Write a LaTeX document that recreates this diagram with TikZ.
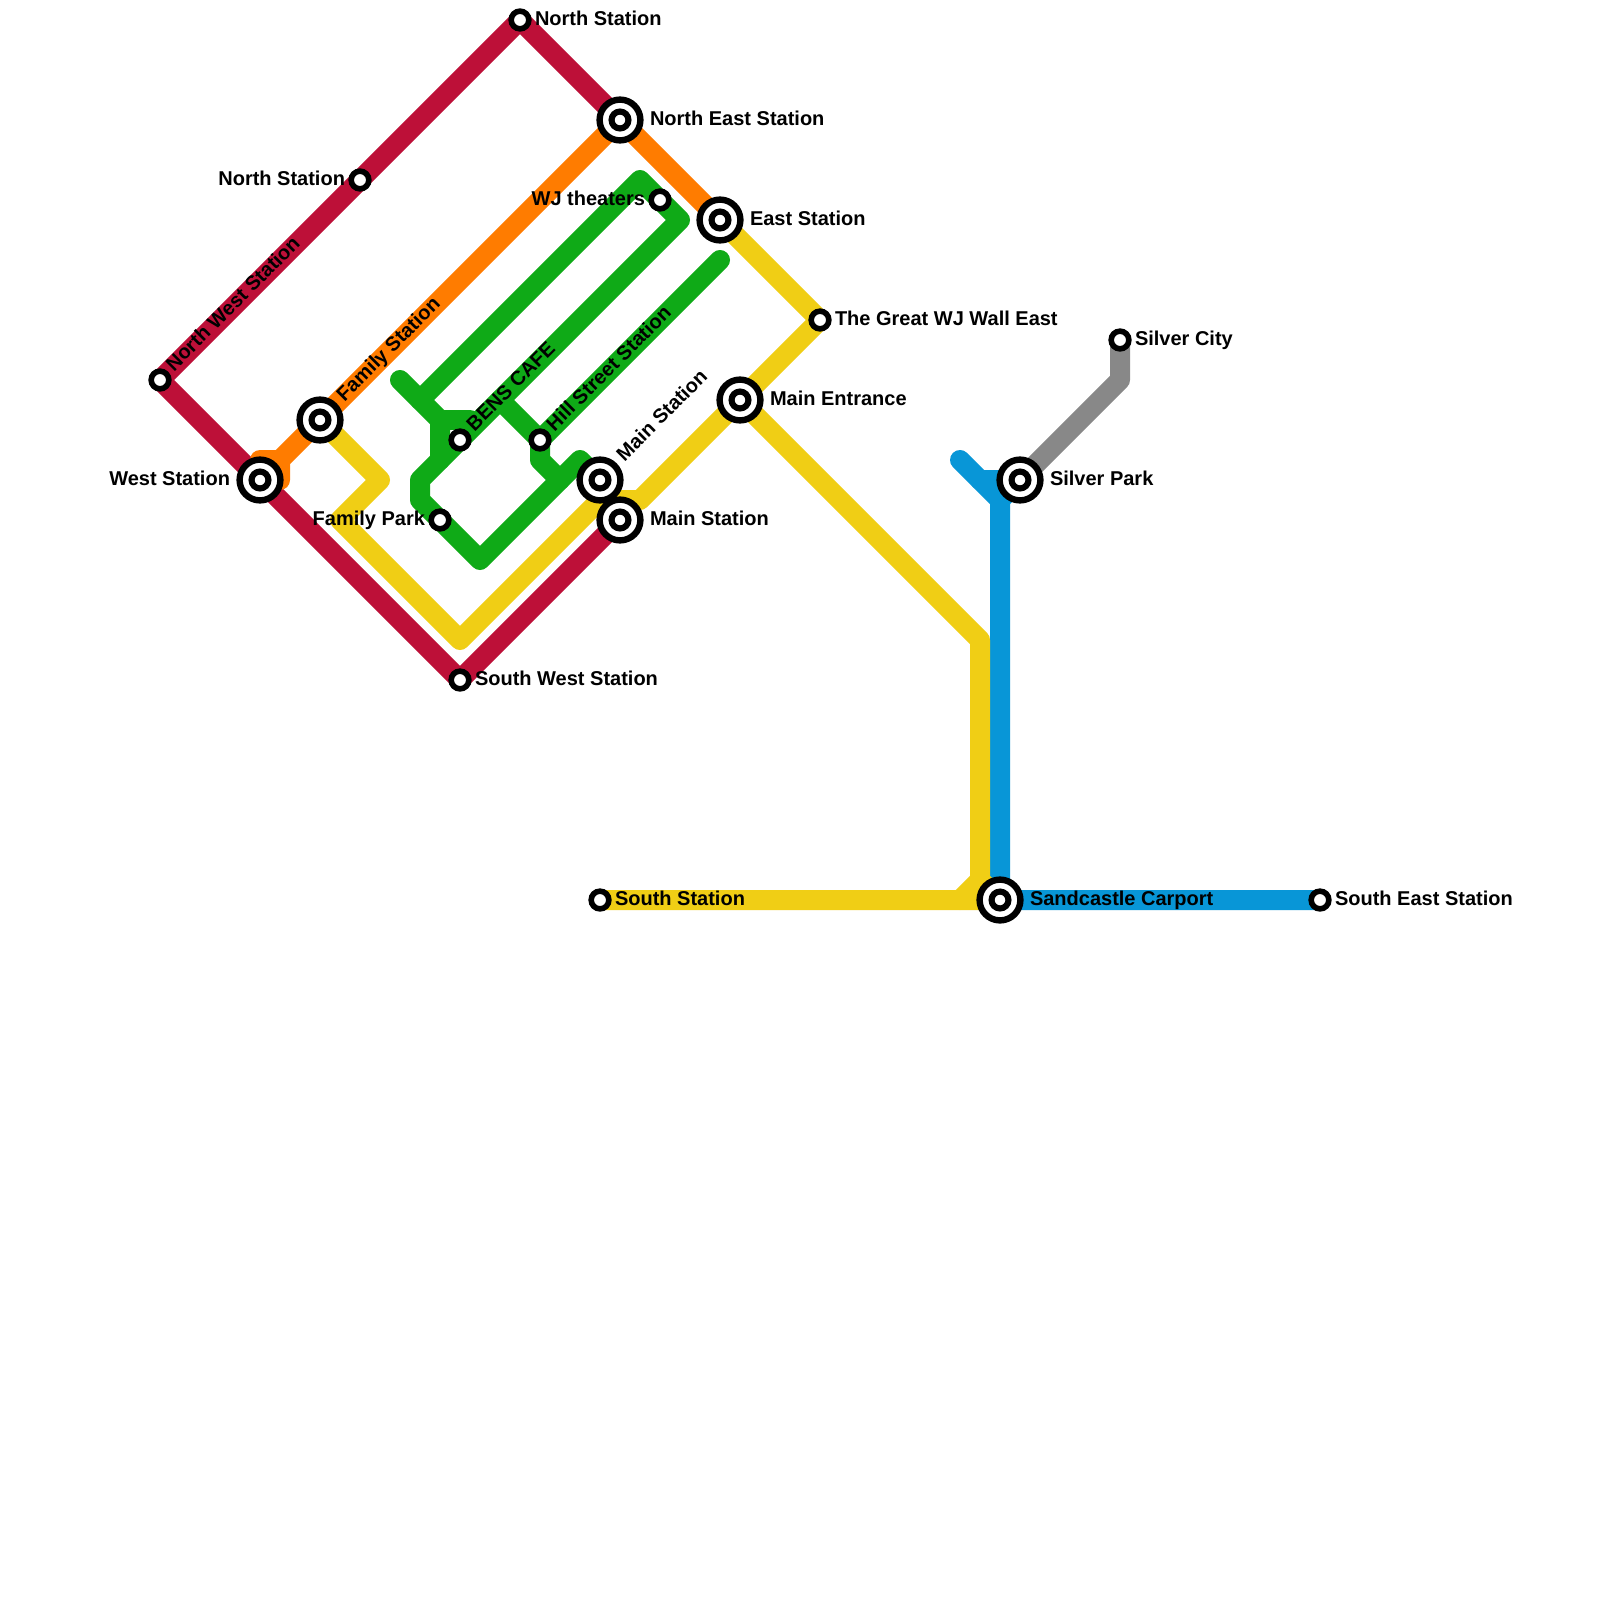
\documentclass[tikz,border=0pt]{standalone}
\usepackage{fontspec}
\setmainfont{Liberation Sans}
\definecolor{crimson}{HTML}{BD1038}
\definecolor{lineorange}{HTML}{FF7C00}
\definecolor{lineyellow}{HTML}{F0CE15}
\definecolor{linegreen}{HTML}{0FAA17}
\definecolor{lineblue}{HTML}{0896D7}
\definecolor{linegray}{HTML}{888888}
\tikzset{
  route/.style={line width=10pt,line cap=round,line join=round},
  small/.style={circle,draw=black,fill=white,line width=2.8pt,minimum size=8.85pt,inner sep=0pt,outer sep=0pt},
  big/.style={circle,draw=black,fill=white,line width=3.2pt,minimum size=20.4pt,inner sep=0pt,outer sep=0pt},
  core/.style={circle,draw=black,fill=white,line width=3.05pt,minimum size=8.45pt,inner sep=0pt,outer sep=0pt},
  lbl/.style={font=\bfseries\fontsize{10pt}{11pt}\selectfont,inner sep=0pt,outer sep=0pt,text=black},
  lr/.style={lbl,anchor=base west},
  ll/.style={lbl,anchor=base east},
  ld/.style={lbl,anchor=base west,rotate=45},
}
\begin{document}
\begin{tikzpicture}[x=0.5pt,y=-0.5pt]
\useasboundingbox (0,0) rectangle (1600,1600);
\fill[white] (0,0) rectangle (1600,1600);
% stations
\coordinate (N) at (520,20);
\coordinate (NW) at (160,380);
\coordinate (NL) at (360,180);
\coordinate (W) at (260,480);
\coordinate (SW) at (460,680);
\coordinate (ML) at (620,520);
\coordinate (MU) at (600,480);
\coordinate (NE) at (620,120);
\coordinate (E) at (720,220);
\coordinate (GW) at (820,320);
\coordinate (ME) at (740,400);
\coordinate (F) at (320,420);
\coordinate (WJ) at (660,200);
\coordinate (BC) at (460,440);
\coordinate (HS) at (540,440);
\coordinate (FP) at (440,520);
\coordinate (SP) at (1020,480);
\coordinate (SC) at (1120,340);
\coordinate (SD) at (1000,900);
\coordinate (SE) at (1320,900);
\coordinate (SS) at (600,900);
% corners
\coordinate (o1) at (280,460);\coordinate (o2) at (280,480);\coordinate (o3) at (260,460);
\coordinate (y1) at (380,480);\coordinate (y2) at (340,520);\coordinate (y3) at (460,640);
\coordinate (y4) at (600,500);\coordinate (y5) at (640,500);\coordinate (y6) at (980,640);
\coordinate (y7) at (980,880);\coordinate (y8) at (960,900);
\coordinate (g1) at (400,380);\coordinate (g2) at (440,420);\coordinate (g3) at (440,460);
\coordinate (g4) at (420,480);\coordinate (g5) at (420,500);\coordinate (g6) at (480,560);
\coordinate (g7) at (580,460);\coordinate (g8) at (420,400);\coordinate (g9) at (640,180);
\coordinate (g10) at (680,220);\coordinate (g11) at (470,420);\coordinate (g12) at (500,400);
\coordinate (g13) at (540,460);\coordinate (g14) at (560,480);\coordinate (g15) at (720,260);
\coordinate (b1) at (960,460);\coordinate (b2) at (1000,500);\coordinate (b3) at (980,480);
\coordinate (s1) at (1120,380);
% routes
\draw[route,linegray] (SP) -- (s1) -- (SC);
\draw[route,lineblue] (b1) -- (b2) -- (SD) -- (SE);
\draw[route,lineblue] (b3) -- (SP) -- (b2);
\draw[route,lineyellow] (E) -- (GW) -- (ME) -- (y6) -- (y7) -- (y8) -- (SS);
\draw[route,lineyellow] (y7) -- (SD) -- (y8);
\draw[route,lineyellow] (ME) -- (y5) -- (y4) -- (y3) -- (y2) -- (y1) -- (F);
\draw[route,linegreen] (g1) -- (g2) -- (g3) -- (g4) -- (g5) -- (g6) -- (g7) -- (MU);
\draw[route,linegreen] (g8) -- (g9) -- (g10) -- (g3);
\draw[route,linegreen] (g2) -- (g11);
\draw[route,linegreen] (g12) -- (HS) -- (g13) -- (g14);
\draw[route,linegreen] (g15) -- (HS);
\draw[route,crimson] (NE) -- (N) -- (NW) -- (SW) -- (ML);
\draw[route,lineorange] (E) -- (NE) -- (o1) -- (o2) -- (W) -- (o3) -- (o1);
% station markers
\foreach \n in {N,NW,NL,SW,WJ,BC,HS,FP,GW,SC,SE,SS}
  \node[small] (m\n) at (\n) {};
\foreach \n in {W,ML,MU,NE,E,ME,F,SP,SD}{
  \node[big] (m\n) at (\n) {};
  \node[core] (c\n) at (\n) {};
}
% labels
\node[lr] (tN) at (535,25.5) {North Station};
\node[ll] (tNL) at (345,185.5) {North Station};
\node[ld] (tNW) at (174,372) {North West Station};
\node[ll] (tW) at (230,485.5) {West Station};
\node[lr] (tSW) at (475,685.5) {South West Station};
\node[lr] (tML) at (650,525.5) {Main Station};
\node[ld] (tMU) at (624.5,462) {Main Station};
\node[lr] (tNE) at (650,125.5) {North East Station};
\node[lr] (tE) at (750,225.5) {East Station};
\node[lr] (tGW) at (835,325.5) {The Great WJ Wall East};
\node[lr] (tME) at (770,405.5) {Main Entrance};
\node[ld] (tF) at (344.5,402) {Family Station};
\node[ll] (tWJ) at (645,205.5) {WJ theaters};
\node[ld] (tBC) at (474.5,432) {BENS CAFE};
\node[ld] (tHS) at (554.5,432) {Hill Street Station};
\node[ll] (tFP) at (425,525.5) {Family Park};
\node[lr] (tSP) at (1050,485.5) {Silver Park};
\node[lr] (tSC) at (1135,345.5) {Silver City};
\node[lr] (tSD) at (1030,905.5) {Sandcastle Carport};
\node[lr] (tSE) at (1335,905.5) {South East Station};
\node[lr] (tSS) at (615,905.5) {South Station};
\end{tikzpicture}
\end{document}
